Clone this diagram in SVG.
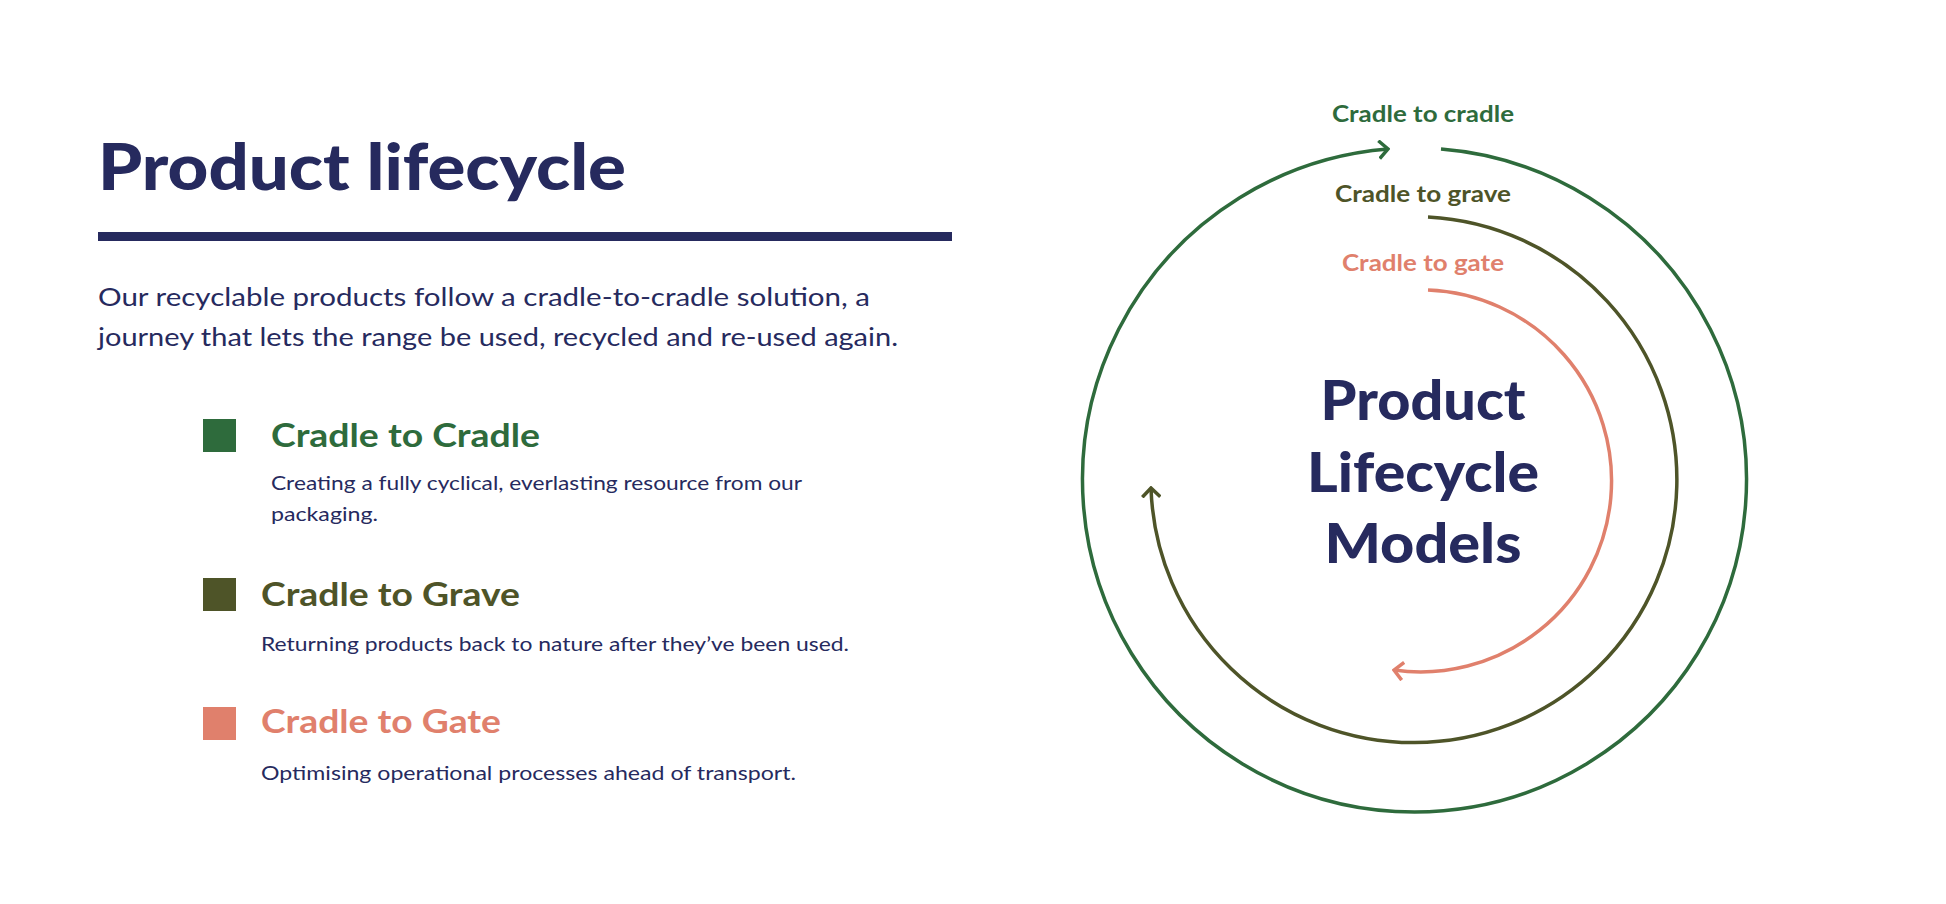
<svg xmlns="http://www.w3.org/2000/svg" width="1946" height="904" viewBox="0 0 1946 904">
<style>
text{font-family:"Lato","Liberation Sans",sans-serif}
.t{fill:#262a5e}
.g{fill:#2e6b3c}.o{fill:#4e5428}.s{fill:#e0806c}
.h{font-size:32px;font-weight:bold}
.d{font-size:19px;fill:#262a5e}
.lab{font-size:22px;font-weight:bold;text-anchor:middle}
.arc{fill:none;stroke-width:3.5}
.c{font-size:56px;font-weight:900;text-anchor:middle;fill:#262a5e}
</style>
<defs>
<marker id="mg" viewBox="0 0 12 20" refX="10" refY="10" markerWidth="12" markerHeight="20" markerUnits="userSpaceOnUse" orient="auto"><path d="M1,1 L10,10 L1,19" fill="none" stroke="#2e6b3c" stroke-width="3.5"/></marker>
<marker id="mo" viewBox="0 0 12 20" refX="10" refY="10" markerWidth="12" markerHeight="20" markerUnits="userSpaceOnUse" orient="auto"><path d="M1,1 L10,10 L1,19" fill="none" stroke="#4e5428" stroke-width="3.5"/></marker>
<marker id="ms" viewBox="0 0 12 20" refX="10" refY="10" markerWidth="12" markerHeight="20" markerUnits="userSpaceOnUse" orient="auto"><path d="M1,1 L10,10 L1,19" fill="none" stroke="#e0806c" stroke-width="3.5"/></marker>
</defs>
<rect width="1946" height="904" fill="#fff"/>
<g id="header">
<text x="98" y="190" class="t" font-size="64" font-weight="900" textLength="528" lengthAdjust="spacingAndGlyphs">Product lifecycle</text>
<rect x="98" y="232" width="854" height="9" fill="#262a5e"/>
<text x="98" y="306" class="t" font-size="25" textLength="772" lengthAdjust="spacingAndGlyphs">Our recyclable products follow a cradle-to-cradle solution, a</text>
<text x="98" y="346" class="t" font-size="25" textLength="800" lengthAdjust="spacingAndGlyphs">journey that lets the range be used, recycled and re-used again.</text>
</g>
<g id="legend-c2c">
<rect x="203" y="419" width="33" height="33" fill="#2e6b3c"/>
<text x="271" y="447" class="h g" textLength="269" lengthAdjust="spacingAndGlyphs">Cradle to Cradle</text>
<text x="271" y="490" class="d" textLength="531" lengthAdjust="spacingAndGlyphs">Creating a fully cyclical, everlasting resource from our</text>
<text x="271" y="521" class="d" textLength="107" lengthAdjust="spacingAndGlyphs">packaging.</text>
</g>
<g id="legend-c2gr">
<rect x="203" y="578" width="33" height="33" fill="#4e5428"/>
<text x="261" y="606" class="h o" textLength="259" lengthAdjust="spacingAndGlyphs">Cradle to Grave</text>
<text x="261" y="651" class="d" textLength="588" lengthAdjust="spacingAndGlyphs">Returning products back to nature after they’ve been used.</text>
</g>
<g id="legend-c2ga">
<rect x="203" y="707" width="33" height="33" fill="#e0806c"/>
<text x="261" y="733" class="h s" textLength="240" lengthAdjust="spacingAndGlyphs">Cradle to Gate</text>
<text x="261" y="780" class="d" textLength="535" lengthAdjust="spacingAndGlyphs">Optimising operational processes ahead of transport.</text>
</g>
<g id="connectors">
<path class="arc" stroke="#2e6b3c" d="M1441,149 A332,332 0 1 1 1388,149" marker-end="url(#mg)"/>
<path class="arc" stroke="#4e5428" d="M1428,217 A263,263 0 1 1 1151,488" marker-end="url(#mo)"/>
<path class="arc" stroke="#e0806c" d="M1428,290 A191,191 0 1 1 1394,670" marker-end="url(#ms)"/>
</g>
<g id="labels">
<text x="1423" y="122" class="lab g" textLength="182" lengthAdjust="spacingAndGlyphs">Cradle to cradle</text>
<text x="1423" y="202" class="lab o" textLength="176" lengthAdjust="spacingAndGlyphs">Cradle to grave</text>
<text x="1423" y="271" class="lab s" textLength="162" lengthAdjust="spacingAndGlyphs">Cradle to gate</text>
</g>
<g id="center">
<text x="1423" y="420" class="c" textLength="205" lengthAdjust="spacingAndGlyphs">Product</text>
<text x="1423" y="492" class="c" textLength="232" lengthAdjust="spacingAndGlyphs">Lifecycle</text>
<text x="1423" y="563" class="c" textLength="197" lengthAdjust="spacingAndGlyphs">Models</text>
</g>
</svg>
